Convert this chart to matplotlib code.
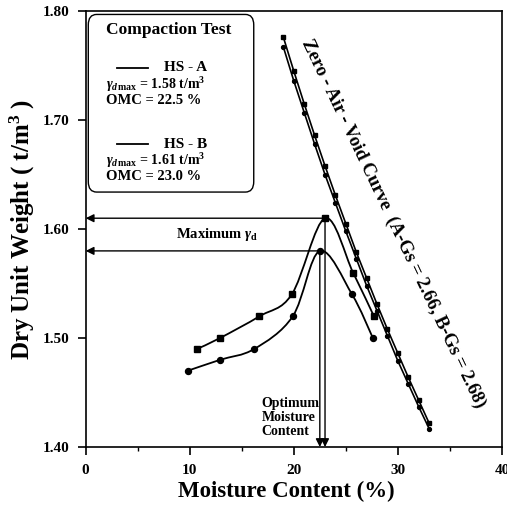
import numpy as np
import matplotlib
matplotlib.use("Agg")
import matplotlib.pyplot as plt
from matplotlib.path import Path
from matplotlib.patches import PathPatch, FancyBboxPatch

plt.rcParams['font.family'] = ['Liberation Serif', 'DejaVu Serif']
plt.rcParams['mathtext.fontset'] = 'custom'
plt.rcParams['mathtext.rm'] = 'Liberation Serif:bold'
plt.rcParams['mathtext.it'] = 'Liberation Serif:italic:bold'
plt.rcParams['mathtext.bf'] = 'Liberation Serif:bold'

# Compaction test results
moisture_a = [9.8, 12.9, 16.2, 19.9, 22.5, 25.6, 27.6]
density_a = [1.47, 1.48, 1.49, 1.52, 1.58, 1.54, 1.50]
moisture_b = [10.7, 12.9, 16.7, 19.8, 23.0, 25.7, 27.7]
density_b = [1.49, 1.50, 1.52, 1.54, 1.61, 1.56, 1.52]

# Zero-air-void curves
zav_moisture = [19, 20, 21, 22, 23, 24, 25, 26, 27, 28, 29, 30, 31, 32, 33]
zav_a = [1.767, 1.736, 1.707, 1.678, 1.650, 1.624, 1.598, 1.573, 1.548,
         1.525, 1.502, 1.479, 1.458, 1.437, 1.417]
zav_b = [1.776, 1.745, 1.715, 1.686, 1.658, 1.631, 1.605, 1.579, 1.555,
         1.531, 1.508, 1.486, 1.464, 1.443, 1.422]

gd_max_a, omc_a = 1.58, 22.5
gd_max_b, omc_b = 1.61, 23.0

x_ticks = [0, 10, 20, 30, 40]
y_ticks = [1.40, 1.50, 1.60, 1.70, 1.80]


def smooth_path(x, y, tension=0.5):
    """Catmull-Rom style cubic Bezier path through the given points."""
    pts = np.column_stack([x, y]).astype(float)
    n = len(pts)
    verts = [pts[0]]
    codes = [Path.MOVETO]
    for i in range(n - 1):
        p0 = pts[i - 1] if i > 0 else pts[i]
        p1 = pts[i]
        p2 = pts[i + 1]
        p3 = pts[i + 2] if i + 2 < n else pts[i + 1]
        c1 = p1 + (p2 - p0) * tension / 3.0
        c2 = p2 - (p3 - p1) * tension / 3.0
        verts += [c1, c2, p2]
        codes += [Path.CURVE4] * 3
    return Path(verts, codes)


fig = plt.figure(figsize=(5.07, 5.08), dpi=100)
ax = fig.add_axes([0.169, 0.120, 0.821, 0.858])
ax.set_xlim(x_ticks[0], x_ticks[-1])
ax.set_ylim(y_ticks[0], y_ticks[-1])


def smooth_curve(x, y):
    # smooth in display space so the curve shape is independent of axis scaling
    pts = ax.transData.transform(np.column_stack([x, y]))
    path = smooth_path(pts[:, 0], pts[:, 1], tension=0.5)
    return PathPatch(path, transform=None, fill=False, lw=1.3, ec='black',
                     zorder=3)


ax.add_patch(smooth_curve(moisture_a, density_a))
ax.add_patch(smooth_curve(moisture_b, density_b))
ax.plot(moisture_a, density_a, 'o', color='black', ms=4.3, zorder=4)
ax.plot(moisture_b, density_b, 's', color='black', ms=4.3, zorder=4)

# zero-air-void lines
ax.plot(zav_moisture, zav_a, '-o', color='black', lw=1.2, ms=2.8, zorder=3)
ax.plot(zav_moisture, zav_b, '-s', color='black', lw=1.2, ms=2.8, zorder=3)

# arrows to the axes
arrow_kw = dict(arrowstyle='-|>', color='black', lw=1.0,
                mutation_scale=12, shrinkA=0, shrinkB=0)
for gd, omc in [(gd_max_b, omc_b), (gd_max_a, omc_a)]:
    ax.annotate('', xy=(0, gd), xytext=(omc, gd), arrowprops=arrow_kw,
                zorder=2)
    ax.annotate('', xy=(omc, y_ticks[0]), xytext=(omc, gd),
                arrowprops=arrow_kw, zorder=2)

ax.text(12.6, 1.595, r'Maximum $\gamma_{\mathrm{d}}$', ha='center',
        va='center', fontsize=10.5, fontweight='bold')
ax.text(16.9, 1.427, 'Optimum\nMoisture\nContent', ha='left', va='center',
        fontsize=10, fontweight='bold', linespacing=1.1)

ax.text(29.6, 1.605, 'Zero - Air - Void Curve  (A-Gs = 2.66, B-Gs = 2.68)',
        rotation=-64.5, ha='center', va='center', fontsize=13.5,
        fontweight='bold', rotation_mode='anchor')

# legend box
box = FancyBboxPatch((0.25, 1.634), 15.9, 0.163,
                     boxstyle='round,pad=0,rounding_size=0.8',
                     mutation_aspect=0.012,
                     fc='white', ec='black', lw=1.0, zorder=5)
ax.add_patch(box)
ax.text(8.0, 1.7825, 'Compaction Test', ha='center', va='center',
        fontsize=12.5, fontweight='bold', zorder=6)
ax.plot([3.0, 6.0], [1.748, 1.748], color='black', lw=1.3, zorder=6)
ax.text(7.5, 1.748, 'HS - A', ha='left', va='center', fontsize=11,
        fontweight='bold', zorder=6)
ax.text(2.0, 1.733, r'$\gamma_{d\,\mathrm{max}}$' + f' = {gd_max_a:.2f} t/m' +
        r'$^{\mathbf{3}}$', ha='left', va='center', fontsize=10,
        fontweight='bold', zorder=6)
ax.text(2.0, 1.718, f'OMC = {omc_a:.1f} %', ha='left', va='center',
        fontsize=10.5, fontweight='bold', zorder=6)
ax.plot([3.0, 6.0], [1.678, 1.678], color='black', lw=1.3, zorder=6)
ax.text(7.5, 1.678, 'HS - B', ha='left', va='center', fontsize=11,
        fontweight='bold', zorder=6)
ax.text(2.0, 1.663, r'$\gamma_{d\,\mathrm{max}}$' + f' = {gd_max_b:.2f} t/m' +
        r'$^{\mathbf{3}}$', ha='left', va='center', fontsize=10,
        fontweight='bold', zorder=6)
ax.text(2.0, 1.648, f'OMC = {omc_b:.1f} %', ha='left', va='center',
        fontsize=10.5, fontweight='bold', zorder=6)

# axes styling
ax.set_xticks(x_ticks)
ax.set_xticklabels([str(t) for t in x_ticks], fontsize=11, fontweight='bold')
ax.set_xticks([5, 15, 25, 35], minor=True)
ax.set_yticks(y_ticks)
ax.set_yticklabels([f'{t:.2f}' for t in y_ticks], fontsize=11,
                   fontweight='bold')
ax.tick_params(axis='both', which='major', direction='out', length=6,
               width=1.2, pad=6)
ax.tick_params(axis='x', which='minor', direction='out', length=3, width=1.0)
for s in ax.spines.values():
    s.set_linewidth(1.2)

ax.set_xlabel('Moisture Content (%)', fontsize=16.5, fontweight='bold')
ax.xaxis.set_label_coords(0.483, -0.078)
ax.set_ylabel(r'Dry Unit Weight ( t/m$^{\mathbf{3}}$ )', fontsize=18,
              fontweight='bold')
ax.yaxis.set_label_coords(-0.118, 0.5)

fig.savefig('out.png', dpi=100)
